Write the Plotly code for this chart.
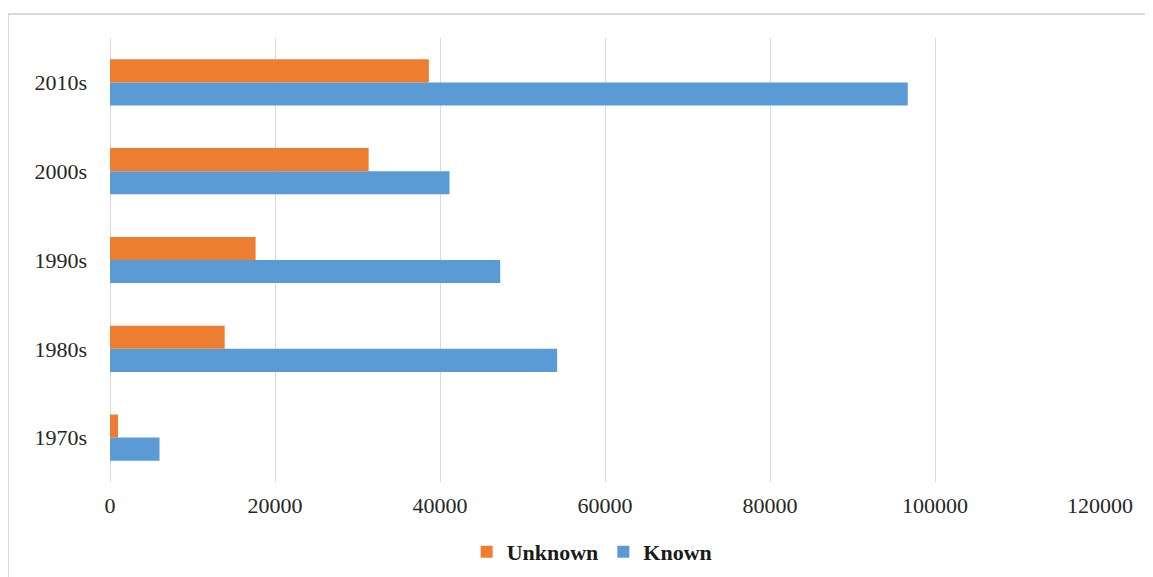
import plotly.graph_objects as go

decades = ["1970s", "1980s", "1990s", "2000s", "2010s"]
unknown = [970, 13900, 17650, 31350, 38650]
known = [6000, 54200, 47300, 41150, 96700]
x_ticks = [0, 20000, 40000, 60000, 80000, 100000, 120000]

ORANGE = "#ED7D31"
BLUE = "#5B9BD5"
FONT = "Liberation Serif, Times New Roman, serif"

W, H = 1145, 569
L, R, T, B = 102, 53, 30, 95
PW, PH = W - L - R, H - T - B

fig = go.Figure()
fig.add_trace(go.Bar(
    y=decades, x=known, name="Known", orientation="h",
    marker=dict(color=BLUE, line=dict(width=0)), legendrank=2,
))
fig.add_trace(go.Bar(
    y=decades, x=unknown, name="Unknown", orientation="h",
    marker=dict(color=ORANGE, line=dict(width=0)), legendrank=1,
))

bx0 = (0 - L) / PW
by1 = (T + PH - 6) / PH
border = dict(color="#d9d9d9", width=2)

fig.update_layout(
    width=W, height=H,
    margin=dict(l=L, r=R, t=T, b=B, autoexpand=False),
    paper_bgcolor="white", plot_bgcolor="white",
    barmode="group", bargap=0.48, bargroupgap=0,
    font=dict(family=FONT, size=22, color="#262626"),
    showlegend=True,
    legend=dict(
        orientation="h", x=0.487, xanchor="center",
        yref="container", y=(H - 544) / H, yanchor="middle",
        font=dict(family=FONT, size=22, color="#1a1a1a", weight="bold"),
        itemwidth=30, traceorder="normal",
    ),
    xaxis=dict(
        range=[0, 120000], tickvals=x_ticks, ticktext=[str(v) for v in x_ticks],
        showgrid=True, gridcolor="#d9d9d9", gridwidth=1,
        zeroline=True, zerolinecolor="#d9d9d9", zerolinewidth=1,
        showline=False, ticks="", ticklen=0, ticklabelstandoff=8,
        tickfont=dict(family=FONT, size=22, color="#262626"),
    ),
    yaxis=dict(
        categoryorder="array", categoryarray=decades,
        showgrid=False, showline=False, zeroline=False, ticks="",
        ticklabelstandoff=22,
        tickfont=dict(family=FONT, size=22, color="#262626"),
    ),
    shapes=[
        dict(type="line", xref="paper", yref="paper",
             x0=bx0, x1=1.2, y0=by1, y1=by1, line=border, layer="below"),
        dict(type="line", xref="paper", yref="paper",
             x0=bx0, x1=bx0, y0=-0.5, y1=by1, line=border, layer="below"),
    ],
)

fig.write_html("out.html")
